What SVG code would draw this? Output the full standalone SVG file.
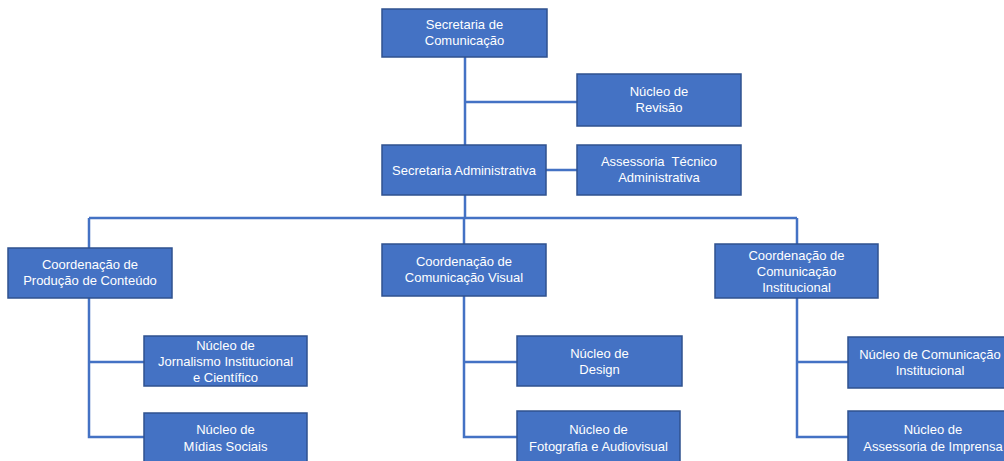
<svg xmlns="http://www.w3.org/2000/svg" width="1004" height="461" viewBox="0 0 1004 461">
<style>
.box{fill:#4472C4;stroke:#2F528F;stroke-width:1.5}
.t{font-family:"Liberation Sans",Arial,sans-serif;font-size:13px;fill:#ffffff;text-anchor:middle}
.ln{stroke:#4472C4;stroke-width:2.5;fill:none}
</style>
<rect width="1004" height="461" fill="#ffffff"/>
<g id="connectors">
<path class="ln" d="M465,57 V145 M465,102 H577 M546,170 H577 M465,195 V218 M89,218 H797 M89,218 V248 M464,218 V244 M797,218 V244"/>
<path class="ln" d="M89,298 V437 H144 M89,362 H144"/>
<path class="ln" d="M464,296 V437 H517 M464,362 H517"/>
<path class="ln" d="M797,298 V437 H848 M797,362 H848"/>
</g>
<g id="n-secom">
<rect class="box" x="382" y="9" width="165" height="48"/>
<text class="t" x="464.5" y="29">Secretaria de</text>
<text class="t" x="464.5" y="45">Comunicação</text>
</g>
<g id="n-revisao">
<rect class="box" x="577" y="74" width="164" height="52"/>
<text class="t" x="659" y="96">Núcleo de</text>
<text class="t" x="659" y="112">Revisão</text>
</g>
<g id="n-secadm">
<rect class="box" x="382" y="145" width="164" height="50"/>
<text class="t" x="464" y="174.5">Secretaria Administrativa</text>
</g>
<g id="n-assessoria-tec">
<rect class="box" x="577" y="145" width="164" height="50"/>
<text class="t" x="659" y="166" xml:space="preserve">Assessoria  Técnico</text>
<text class="t" x="659" y="182">Administrativa</text>
</g>
<g id="n-coord-producao">
<rect class="box" x="8" y="248" width="164" height="50"/>
<text class="t" x="90" y="269">Coordenação de</text>
<text class="t" x="90" y="285">Produção de Conteúdo</text>
</g>
<g id="n-coord-visual">
<rect class="box" x="382" y="244" width="164" height="52"/>
<text class="t" x="464" y="266">Coordenação de</text>
<text class="t" x="464" y="282">Comunicação Visual</text>
</g>
<g id="n-coord-inst">
<rect class="box" x="715" y="244" width="163" height="54"/>
<text class="t" x="796.5" y="260">Coordenação de</text>
<text class="t" x="796.5" y="276">Comunicação</text>
<text class="t" x="796.5" y="292">Institucional</text>
</g>
<g id="n-jornalismo">
<rect class="box" x="144" y="336" width="163" height="50"/>
<text class="t" x="225.5" y="350">Núcleo de</text>
<text class="t" x="225.5" y="366">Jornalismo Institucional</text>
<text class="t" x="225.5" y="382">e Científico</text>
</g>
<g id="n-midias">
<rect class="box" x="144" y="413" width="163" height="52"/>
<text class="t" x="225.5" y="434">Núcleo de</text>
<text class="t" x="225.5" y="451">Mídias Sociais</text>
</g>
<g id="n-design">
<rect class="box" x="517" y="336" width="165" height="50"/>
<text class="t" x="599.5" y="358">Núcleo de</text>
<text class="t" x="599.5" y="374">Design</text>
</g>
<g id="n-fotografia">
<rect class="box" x="517" y="411" width="163" height="54"/>
<text class="t" x="598.5" y="434">Núcleo de</text>
<text class="t" x="598.5" y="451">Fotografia e Audiovisual</text>
</g>
<g id="n-com-inst">
<rect class="box" x="848" y="337" width="164" height="51"/>
<text class="t" x="930" y="359">Núcleo de Comunicação</text>
<text class="t" x="930" y="375">Institucional</text>
</g>
<g id="n-imprensa">
<rect class="box" x="848" y="411" width="164" height="54"/>
<text class="t" x="933" y="434">Núcleo de</text>
<text class="t" x="933" y="451">Assessoria de Imprensa</text>
</g>
</svg>
